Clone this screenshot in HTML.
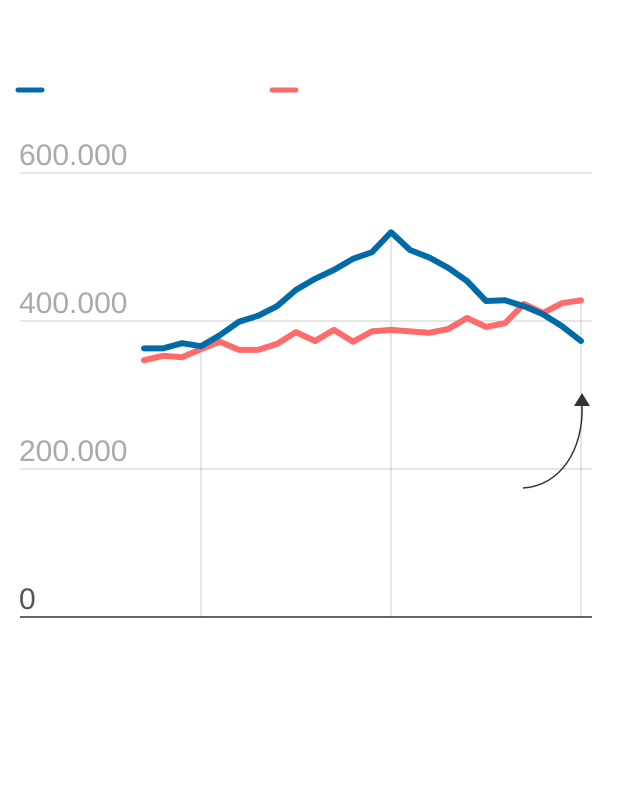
<!DOCTYPE html>
<html><head><meta charset="utf-8"><style>
html,body{margin:0;padding:0;background:#fff;}
svg{display:block;font-family:"Liberation Sans",sans-serif;}
</style></head><body>
<svg id="chart" width="640" height="786">
<line x1="18" y1="90" x2="42" y2="90" stroke="#006ba6" stroke-width="5" stroke-linecap="round"/>
<line x1="272" y1="90" x2="296" y2="90" stroke="#ff6b6b" stroke-width="5" stroke-linecap="round"/>
<g id="grid"></g>
<g id="series"></g>
<path d="M523,488 C560,486 584,450 582,404" fill="none" stroke="#333" stroke-width="1.5"/>
<polygon points="582,393 574,406 590,406" fill="#333"/>
</svg>
<script>
const yTicks=[0,200000,400000,600000];
const yTickLabels=["0","200.000","400.000","600.000"];
const xGridIdx=[3,13,23];
const blueValues=[363,363,370,366,381,399,407,420,442,457,469,484,493,520,496,486,472,454,427,428,420,409,393,373];
const redValues=[347,353,351,362,372,361,361,369,385,373,388,372,386,388,386,384,389,404,392,397,423,411,424,428];
const NS="http://www.w3.org/2000/svg";
const yS=v=>617-v*0.00074;
const xS=i=>144+i*(581-144)/23;
const grid=document.getElementById('grid'),ser=document.getElementById('series');
function mk(t,a,p){const e=document.createElementNS(NS,t);for(const k in a)e.setAttribute(k,a[k]);p.appendChild(e);return e;}
xGridIdx.forEach(i=>{const l=mk('line',{x1:xS(i),x2:xS(i),y1:yS(0),y2:yS(Math.max(blueValues[i],redValues[i])*1000),stroke:'#ccc','stroke-width':1},grid);

});
yTicks.forEach((v,k)=>{
 const l=mk('line',{x1:20,x2:592,y1:yS(v),y2:yS(v),stroke:v===0?'#333':'#ccc','stroke-width':v===0?1.5:1},grid);
 
 
 const t=mk('text',{x:19,y:yS(v)-8,'font-size':30,fill:v===0?'#555':'#aaa'},grid);
 t.textContent=yTickLabels[k];
 
 
});
function line(vals,color,name){
 const d=vals.map((v,i)=>(i?'L':'M')+xS(i).toFixed(1)+','+yS(v*1000).toFixed(1)).join(' ');
 const p=mk('path',{d:d,fill:'none',stroke:color,'stroke-width':6,'stroke-linejoin':'round','stroke-linecap':'round'},ser);
 
 
}
line(redValues,'#ff6b6b','red-series-line');
line(blueValues,'#006ba6','blue-series-line');
</script>
</body></html>
